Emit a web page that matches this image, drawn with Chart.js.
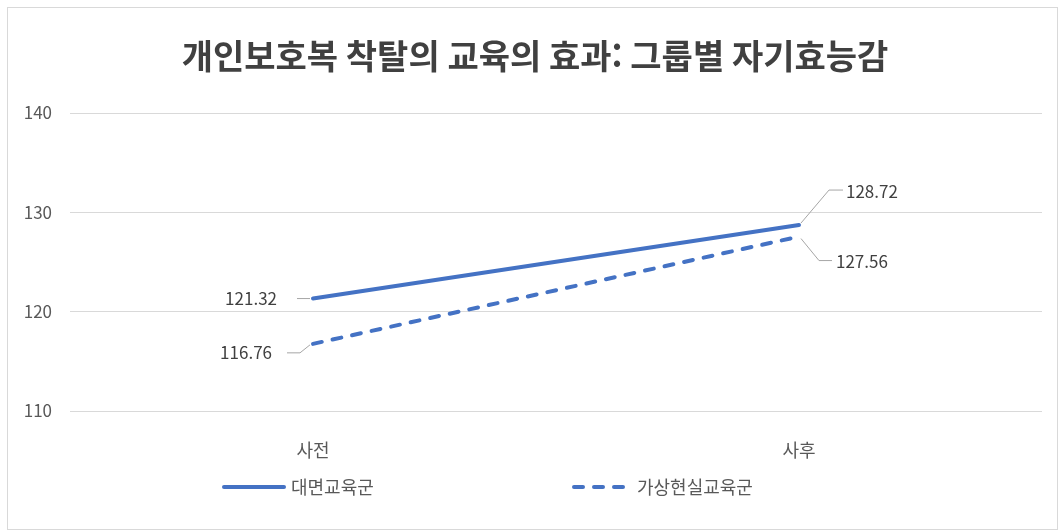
<!DOCTYPE html>
<html lang="ko">
<head>
<meta charset="utf-8">
<title>자기효능감</title>
<script src="https://cdn.jsdelivr.net/npm/chart.js@4/dist/chart.umd.min.js"></script>
<style>
  html, body { margin: 0; padding: 0; background: #fff; }
</style>
</head>
<body>
<canvas id="myChart" width="1059" height="531"></canvas>
<script>
// datos de la grafica
const titulo = '개인보호복 착탈의 교육의 효과: 그룹별 자기효능감';
const categorias = ['사전', '사후'];
const grupos = ['대면교육군', '가상현실교육군'];
const valoresPresencial = [121.32, 128.72];
const valoresVirtual = [116.76, 127.56];
const ticksY = [110, 120, 130, 140];

const fuente = '"Noto Sans CJK KR", "Noto Sans", sans-serif';
const azul = '#4472C4';
const gris = '#595959';

// posicion de cada etiqueta respecto a su punto: linea guia + texto
const guias = [
  [
    { linea: [[-16, 0], [-3, 0]], texto: [-36, 0], alinear: 'right' },
    { linea: [[2, -2], [30, -35], [44, -35]], texto: [47, -34], alinear: 'left' }
  ],
  [
    { linea: [[-26, 9], [-13, 9], [-3, 1]], texto: [-41, 9], alinear: 'right' },
    { linea: [[2, 2], [20, 24], [33, 24]], texto: [37, 25], alinear: 'left' }
  ]
];

const extras = {
  id: 'extras',
  beforeDraw(chart) {
    const ctx = chart.ctx;
    ctx.save();
    ctx.fillStyle = '#fff';
    ctx.fillRect(0, 0, chart.width, chart.height);
    ctx.strokeStyle = '#d9d9d9';
    ctx.lineWidth = 1;
    ctx.strokeRect(7.5, 7.5, chart.width - 9, chart.height - 9);
    ctx.restore();
  },
  afterDatasetsDraw(chart) {
    const ctx = chart.ctx;
    ctx.save();
    ctx.font = '17px ' + fuente;
    ctx.textBaseline = 'middle';
    chart.data.datasets.forEach((ds, i) => {
      chart.getDatasetMeta(i).data.forEach((p, j) => {
        const g = guias[i][j];
        //la linea guia gris
        ctx.strokeStyle = '#a6a6a6';
        ctx.lineWidth = 1;
        ctx.beginPath();
        g.linea.forEach(([dx, dy], k) => {
          if (k === 0) ctx.moveTo(p.x + dx, p.y + dy);
          else ctx.lineTo(p.x + dx, p.y + dy);
        });
        ctx.stroke();
        ctx.fillStyle = '#404040';
        ctx.textAlign = g.alinear;
        ctx.fillText(ds.data[j].toFixed(2), p.x + g.texto[0], p.y + g.texto[1]);
      });
    });
    ctx.restore();
  },
  afterDraw(chart) {
    const ctx = chart.ctx;
    ctx.save();
    // titulo
    ctx.fillStyle = '#404040';
    ctx.font = 'bold 34px ' + fuente;
    ctx.textAlign = 'center';
    ctx.textBaseline = 'middle';
    ctx.fillText(titulo, 535, 56);

    // leyenda abajo
    const xs = [222, 572];
    const largos = [62, 58];
    const y = 487;
    ctx.font = '18px ' + fuente;
    ctx.textAlign = 'left';
    chart.data.datasets.forEach((ds, i) => {
      ctx.strokeStyle = ds.borderColor;
      ctx.lineWidth = ds.borderWidth;
      ctx.lineCap = ds.borderCapStyle || 'butt';
      ctx.setLineDash(ds.borderDash || []);
      ctx.beginPath();
      ctx.moveTo(xs[i] + 2, y);
      ctx.lineTo(xs[i] + largos[i], y);
      ctx.stroke();
      ctx.setLineDash([]);
      ctx.fillStyle = gris;
      ctx.fillText(ds.label, xs[i] + largos[i] + 7, y);
    });
    ctx.restore();
  }
};

const data = {
  labels: categorias,
  datasets: [{
    label: grupos[0],
    data: valoresPresencial,
    borderColor: azul,
    borderWidth: 4,
    borderCapStyle: 'round',
    pointRadius: 0,
    tension: 0
  }, {
    label: grupos[1],
    data: valoresVirtual,
    borderColor: azul,
    borderWidth: 4,
    borderCapStyle: 'round',
    borderDash: [9, 11],
    pointRadius: 0,
    tension: 0
  }]
};

const config = {
  type: 'line',
  data: data,
  options: {
    responsive: false,
    animation: false,
    layout: { padding: { top: 113, left: 7, right: 17, bottom: 60 } },
    plugins: {
      legend: { display: false },
      title: { display: false },
      tooltip: { enabled: false }
    },
    scales: {
      x: {
        offset: true,
        grid: { display: false },
        border: { display: false },
        ticks: { color: gris, font: { family: fuente, size: 18 }, padding: 20 },
        afterFit: s => { s.height = 60; }
      },
      y: {
        min: ticksY[0],
        max: ticksY[ticksY.length - 1],
        afterBuildTicks: s => { s.ticks = ticksY.map(v => ({ value: v })); },
        grid: { color: '#d9d9d9', drawTicks: false },
        border: { display: false },
        ticks: { color: gris, font: { family: fuente, size: 17 }, padding: 18 },
        afterFit: s => { s.width = 63; }
      }
    }
  },
  plugins: [extras]
};

const myChart = new Chart(document.getElementById('myChart'), config);
</script>
</body>
</html>
